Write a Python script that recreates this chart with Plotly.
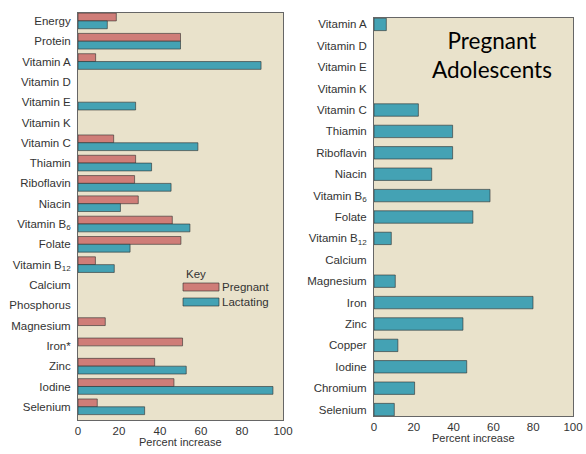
import plotly.graph_objects as go

# Left panel: pregnant & lactating women
left_nutrients = ["Energy", "Protein", "Vitamin A", "Vitamin D", "Vitamin E", "Vitamin K",
                  "Vitamin C", "Thiamin", "Riboflavin", "Niacin", "Vitamin B<sub>6</sub>",
                  "Folate", "Vitamin B<sub>12</sub>", "Calcium", "Phosphorus", "Magnesium",
                  "Iron*", "Zinc", "Iodine", "Selenium"]
pregnant = [18.7, 50, 8.6, 0, 0, 0, 17.4, 28.1, 27.6, 29.4, 46, 50.2, 8.5, 0, 0, 13.3,
            51, 37.4, 46.8, 9.4]
lactating = [14.3, 50, 89.3, 0, 28.1, 0, 58.5, 35.9, 45.4, 20.7, 54.6, 25.4, 17.7, 0, 0, 0,
             0, 52.8, 95.1, 32.5]

# Right panel: pregnant adolescents
right_nutrients = ["Vitamin A", "Vitamin D", "Vitamin E", "Vitamin K", "Vitamin C", "Thiamin",
                   "Riboflavin", "Niacin", "Vitamin B<sub>6</sub>", "Folate",
                   "Vitamin B<sub>12</sub>", "Calcium", "Magnesium", "Iron", "Zinc", "Copper",
                   "Iodine", "Chromium", "Selenium"]
adolescent = [6.2, 0, 0, 0, 22.3, 39.5, 39.5, 29, 58.3, 49.7, 8.7, 0, 10.7, 79.9, 44.7, 12,
              46.6, 20.4, 10.2]

x_ticks = [0, 20, 40, 60, 80, 100]

BG = "#e9e2cb"
PINK = "#cf7d78"
TEAL = "#44a2b4"
EDGE = "rgba(45,45,45,0.75)"
FONT = "Liberation Sans, Arial, sans-serif"


def edge_widths(vals):
    return [0.8 if v > 0 else 0 for v in vals]


fig = go.Figure()
fig.add_trace(go.Bar(y=left_nutrients, x=pregnant, orientation="h", name="Pregnant",
                     marker=dict(color=PINK, line=dict(color=EDGE, width=edge_widths(pregnant))),
                     xaxis="x", yaxis="y", showlegend=False))
fig.add_trace(go.Bar(y=left_nutrients, x=lactating, orientation="h", name="Lactating",
                     marker=dict(color=TEAL, line=dict(color=EDGE, width=edge_widths(lactating))),
                     xaxis="x", yaxis="y", showlegend=False))
fig.add_trace(go.Bar(y=right_nutrients, x=adolescent, orientation="h", name="Adolescent",
                     marker=dict(color=TEAL, line=dict(color=EDGE, width=edge_widths(adolescent))),
                     xaxis="x2", yaxis="y2", showlegend=False, width=0.58, offsetgroup="adol"))

W, H = 586, 454
def px_x(p): return p / W
def px_y(p): return 1 - p / H

# label-carrying axes (no tick marks, so labels sit close to the line)
axis_labels = dict(range=[0, 100], tickvals=x_ticks, ticks="", showgrid=False, zeroline=False,
                   automargin=False, showline=True, linecolor="#666", linewidth=1, mirror=True,
                   tickfont=dict(family=FONT, size=11.5, color="#333"))
# overlay axes that only draw the tick marks
axis_marks = dict(range=[0, 100], tickvals=x_ticks, ticks="outside", ticklen=4, tickcolor="#555",
                  showticklabels=False, showgrid=False, zeroline=False, showline=False,
                  automargin=False,
                  minor=dict(dtick=10, ticks="outside", ticklen=3, tickcolor="#777"))
yaxis_common = dict(showgrid=False, zeroline=False, ticks="", automargin=False,
                    showline=True, linecolor="#666", linewidth=1, mirror=True,
                    tickfont=dict(family=FONT, size=11.5, color="#333"), ticklabelstandoff=4)

fig.update_layout(
    width=W, height=H,
    margin=dict(l=0, r=0, t=0, b=0),
    paper_bgcolor="white",
    plot_bgcolor=BG,
    barmode="group",
    bargap=0.23,
    bargroupgap=0,
    xaxis=dict(domain=[px_x(78), px_x(283)], anchor="y", **axis_labels),
    yaxis=dict(domain=[px_y(420), px_y(13)], anchor="x", range=[19.65, -0.39], **yaxis_common),
    xaxis2=dict(domain=[px_x(374), px_x(573)], anchor="y2", **axis_labels),
    yaxis2=dict(domain=[px_y(416), px_y(18)], anchor="x2", range=[18.3, -0.3], **yaxis_common),
    xaxis3=dict(overlaying="x", anchor="y", side="bottom", **axis_marks),
    xaxis4=dict(overlaying="x2", anchor="y2", side="bottom", **axis_marks),
    showlegend=False,
)

# Axis titles
for (xc, yc) in [((78 + 283) / 2, 442), ((374 + 573) / 2, 438)]:
    fig.add_annotation(x=px_x(xc), y=px_y(yc), xref="paper", yref="paper",
                       text="Percent increase", showarrow=False,
                       xanchor="center", yanchor="middle",
                       font=dict(family=FONT, size=11, color="#333"))

# Custom "Key" legend
fig.add_annotation(x=px_x(184), y=px_y(274), xref="paper", yref="paper", text="Key",
                   showarrow=False, xanchor="left", yanchor="middle",
                   font=dict(family=FONT, size=11.5, color="#333"))
for (y0, y1, col, label) in [(283, 291, PINK, "Pregnant"), (298, 306, TEAL, "Lactating")]:
    fig.add_shape(type="rect", xref="paper", yref="paper",
                  x0=px_x(183), x1=px_x(219), y0=px_y(y1), y1=px_y(y0),
                  fillcolor=col, line=dict(color=EDGE, width=0.8))
    fig.add_annotation(x=px_x(220), y=px_y((y0 + y1) / 2), xref="paper", yref="paper",
                       text=label, showarrow=False, xanchor="left", yanchor="middle",
                       font=dict(family=FONT, size=11.5, color="#333"))

fig.add_annotation(x=px_x(492), y=px_y(55), xref="paper", yref="paper",
                   text="Pregnant<br>Adolescents", showarrow=False,
                   xanchor="center", yanchor="middle",
                   font=dict(family="Lato, Open Sans, sans-serif", size=22.5, color="black"))

fig.write_html("out.html", config={"displayModeBar": False},
               post_script="document.body.style.margin='0';document.body.style.overflow='hidden';")
